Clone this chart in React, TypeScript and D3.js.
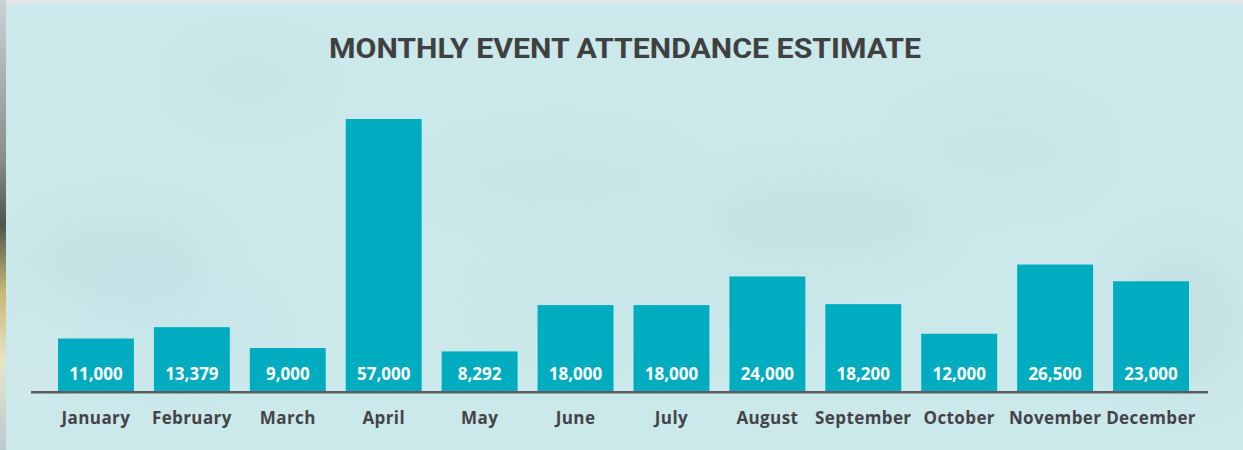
import React from "react";
import * as d3 from "d3";

const months = ["January","February","March","April","May","June","July","August","September","October","November","December"];
const attendance = [11000, 13379, 9000, 57000, 8292, 18000, 18000, 24000, 18200, 12000, 26500, 23000];
const chartTitle = "MONTHLY EVENT ATTENDANCE ESTIMATE";

const W = 1243, H = 450;

export default function App() {
  const x = d3.scaleBand<string>().domain(months).range([58, 1189]).paddingInner(0.2086).paddingOuter(0);
  const y = d3.scaleLinear().domain([0, 57000]).range([391, 119]);
  const fmt = d3.format(",");
  const xOf = (m: string) => x(m) as number;
  return (
    <svg width={W} height={H} style={{ position: "absolute", left: 0, top: 0 }}>
      <defs>
        <filter id="blur" x="-50%" y="-50%" width="200%" height="200%">
          <feGaussianBlur stdDeviation="22" />
        </filter>
        <linearGradient id="strip" x1="0" y1="0" x2="0" y2="1">
          <stop offset="0" stopColor="#c9d2d6" />
          <stop offset="0.35" stopColor="#8a8e8c" />
          <stop offset="0.5" stopColor="#4d5550" />
          <stop offset="0.65" stopColor="#c9b774" />
          <stop offset="0.8" stopColor="#e8e2c4" />
          <stop offset="1" stopColor="#b9c9d1" />
        </linearGradient>
      </defs>
      <rect x={0} y={0} width={W} height={H} fill="#e4e7ea" />
      <rect x={0} y={0} width={6} height={H} fill="url(#strip)" />
      <rect x={6} y={4} width={W - 6} height={H - 4} fill="#cbe8eb" />
      <g filter="url(#blur)" opacity={0.45}>
        <ellipse cx={120} cy={260} rx={90} ry={40} fill="#bcdadd" />
        <ellipse cx={250} cy={80} rx={60} ry={25} fill="#c0dde0" />
        <ellipse cx={560} cy={180} rx={120} ry={30} fill="#c2dfe2" />
        <ellipse cx={820} cy={220} rx={120} ry={40} fill="#c0dcd8" />
        <ellipse cx={1000} cy={150} rx={90} ry={40} fill="#c4e0e2" />
        <ellipse cx={1180} cy={320} rx={60} ry={70} fill="#bcd9dc" />
        <ellipse cx={180} cy={330} rx={80} ry={40} fill="#c3e4ea" />
        <ellipse cx={650} cy={300} rx={160} ry={40} fill="#c6e3e6" />
        <ellipse cx={30} cy={380} rx={30} ry={30} fill="#d8ecee" />
      </g>
      <text x={625} y={58} textAnchor="middle" fontFamily="'Liberation Sans Narrow', 'Arial Narrow', Roboto, sans-serif" fontWeight={700} fontSize={28} fill="#404040" textLength={592} lengthAdjust="spacingAndGlyphs">{chartTitle}</text>
      {months.map((m, i) => (
        <g key={m}>
          <rect x={xOf(m)} y={y(attendance[i])} width={x.bandwidth()} height={y(0) - y(attendance[i])} fill="#00acc0" />
          <text x={xOf(m) + x.bandwidth() / 2} y={380} textAnchor="middle" fontFamily="'Open Sans', sans-serif" fontWeight={700} fontSize={17} fill="#ffffff">{fmt(attendance[i])}</text>
          <text x={xOf(m) + x.bandwidth() / 2} y={424} textAnchor="middle" fontFamily="'Open Sans', sans-serif" fontWeight={700} fontSize={17} letterSpacing={0.4} fill="#444448">{m}</text>
        </g>
      ))}
      <line x1={31} x2={1208} y1={392} y2={392} stroke="#5a5c62" strokeWidth={2} />
      <line x1={31} x2={1208} y1={393.5} y2={393.5} stroke="#9aa3a8" strokeWidth={1} />
    </svg>
  );
}
